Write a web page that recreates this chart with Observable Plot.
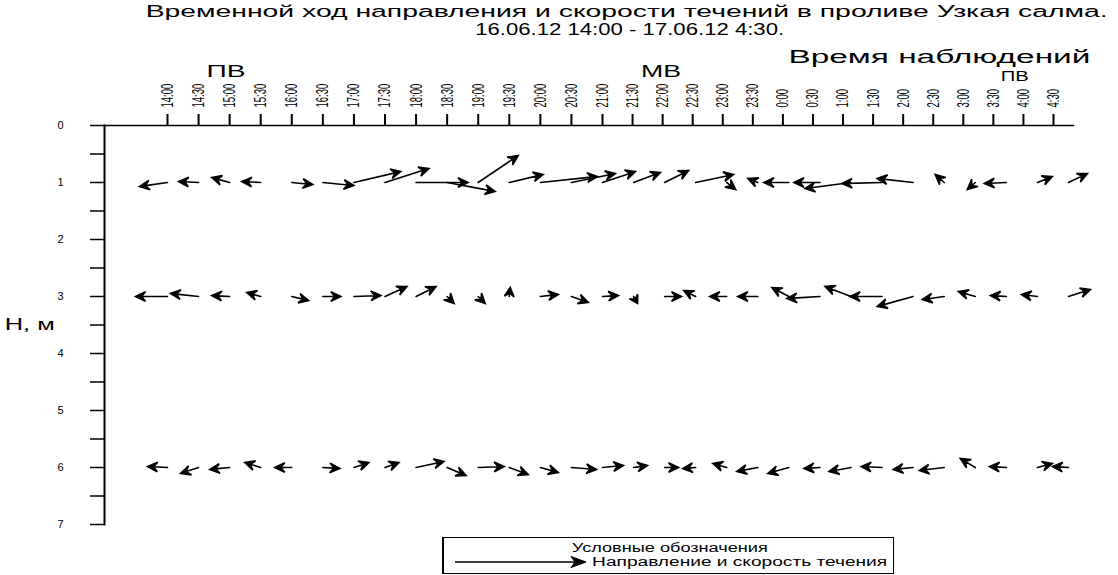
<!DOCTYPE html>
<html><head><meta charset="utf-8">
<script src="https://cdn.jsdelivr.net/npm/d3@7"></script>
<script src="https://cdn.jsdelivr.net/npm/@observablehq/plot@0.6"></script>
<style>
body{margin:0;background:#fff;font-family:"Liberation Sans",Arial,sans-serif;}
#wrap{position:relative;width:1118px;height:575px;overflow:hidden;background:#fff;}
#wrap svg{position:absolute;left:0;top:0;}
.t{position:absolute;white-space:nowrap;color:#000;line-height:1;transform-origin:50% 50%;font-family:"Liberation Sans",Arial,sans-serif;}
#legend{position:absolute;left:442px;top:537px;width:452px;height:37px;border:1px solid #000;border-left:2px solid #000;box-sizing:border-box;}
</style></head><body><div id="wrap"></div>
<script>
// ---- data ----
const times = ["14:00","14:30","15:00","15:30","16:00","16:30","17:00","17:30","18:00","18:30","19:00","19:30","20:00","20:30","21:00","21:30","22:00","22:30","23:00","23:30","0:00","0:30","1:00","1:30","2:00","2:30","3:00","3:30","4:00","4:30"];
const depths = [1, 3, 6];
const yTicks = [0, 1, 2, 3, 4, 5, 6, 7];
const yMinorTicks = [0.5, 1.5, 2.5, 3.5, 4.5, 5.5, 6.5];
// current components (east, north), cm/s
const east1  = [-28,-20,-18,-19,21,31,47,44,52,48,40,34,57,44,33,27,24,38,9,-10,-25,-26,-46,-40,-36,-9,-8,-22,15,19];
const north1 = [-4,1,5,1,-2,-3,11,14,0,-9,27,8,6,9,11,10,12,8,-7,4,0,0,-6,-1,4,8,-7,-1,6,9];
const east3  = [-32,-28,-18,-14,17,18,27,22,20,7,7,1,18,17,16,4,17,-12,-17,-20,-17,-33,-26,-32,-36,-22,-17,-16,-16,22];
const north3 = [0,3,1,4,-4,0,1,10,10,-7,-7,9,2,-6,1,-7,0,6,0,0,9,-2,10,0,-10,-3,5,1,2,7];
const east6  = [-20,-18,-20,-16,-17,17,15,14,28,19,26,19,18,25,21,14,14,-13,-14,-21,-21,-16,-22,-21,-20,-25,-15,-17,15,-16];
const north6 = [1,-6,-2,5,0,-1,5,5,6,-8,1,-7,-5,-2,2,2,0,-1,4,-4,-6,-1,-4,1,-2,-3,9,1,4,1];
const tideLabels = ["ПВ", "МВ", "ПВ"];
const tideAt = [1.9, 15.9, 27.3]; // position in half-hour steps from 14:00

const eastAll = [east1, east3, east6], northAll = [north1, north3, north6];
const rows = [];
depths.forEach((h, k) => times.forEach((t, i) => rows.push({i, h, u: eastAll[k][i], v: northAll[k][i]})));

const notched = {
  draw(ctx, l) {
    const h = Math.min(10, l), w = 4.8, n = h * 0.6;
    ctx.moveTo(0, 0);
    ctx.lineTo(0, -l + n);
    ctx.moveTo(0, -l);
    ctx.lineTo(-w, -l + h);
    ctx.lineTo(0, -l + n);
    ctx.lineTo(w, -l + h);
    ctx.closePath();
  }
};

const wrap = document.getElementById("wrap");
const common = {
  width: 1118, height: 575,
  marginLeft: 104, marginRight: 45, marginTop: 125, marginBottom: 51,
  style: {fontFamily: "'Liberation Sans', Arial, sans-serif", color: "black", overflow: "visible"}
};

// axes (the original's time ticks are slightly compressed on the right half)
function axes(xopt) {
  return Plot.plot({
    ...common,
    x: xopt,
    y: {domain: [0, 7], range: [125, 524]},
    style: {...common.style, background: "white"},
    marks: [
      Plot.frame({anchor: "top", strokeWidth: 1.5}),
      Plot.frame({anchor: "left", strokeWidth: 2}),
      Plot.axisX({anchor: "top", ticks: d3.range(times.length), tickFormat: i => times[i], tickRotate: -90,
        tickSize: 12, tickPadding: 6, fontSize: 17, strokeWidth: 2, label: null}),
      Plot.axisY({anchor: "left", ticks: [...yTicks, ...yMinorTicks], tickFormat: d => Number.isInteger(d) ? d : "",
        tickSize: 14, tickPadding: 27, fontSize: 11, strokeWidth: 1.5, label: null})
    ]
  });
}
let axisChart;
try { axisChart = axes({type: "linear", domain: [0, 14, 29], range: [167, 602, 1053]}); }
catch (e) { axisChart = axes({type: "linear", domain: [0, 29], range: [167, 1053]}); }
wrap.appendChild(axisChart);

function arrows(shape) {
  return Plot.plot({
    ...common,
    x: {type: "linear", domain: [0, times.length - 1], range: [167, 1068], axis: null},
    y: {domain: [0, 7], range: [125, 524], axis: null},
    length: {type: "linear", domain: [0, 100], range: [0, 100]},
    style: {...common.style, background: "transparent"},
    marks: [
      Plot.vector(rows, {x: "i", y: "h",
        rotate: d => Math.atan2(d.u, d.v) * 180 / Math.PI,
        length: d => Math.hypot(d.u, d.v),
        anchor: "start", shape, stroke: "black", fill: "black", strokeWidth: 1.6, strokeLinejoin: "miter"})
    ]
  });
}
let chart;
try { chart = arrows(notched); } catch (e) { chart = arrows("arrow"); }
wrap.appendChild(chart);

// condense rotated tick labels
d3.select(axisChart).selectAll('g[aria-label="x-axis tick label"] text').each(function() {
  const tr = this.getAttribute("transform") || "";
  this.setAttribute("transform", tr + " scale(0.56,1)");
});

function place(txt, cx, cy, w, fs, parent = wrap) {
  const d = document.createElement("div");
  d.className = "t"; d.textContent = txt; d.style.fontSize = fs + "px";
  parent.appendChild(d);
  const r = d.getBoundingClientRect();
  d.style.left = (cx - r.width / 2) + "px";
  d.style.top = (cy - r.height / 2) + "px";
  if (w) d.style.transform = `scaleX(${w / r.width})`;
  return d;
}
place("Временной ход направления и скорости течений в проливе Узкая салма.", 627, 12, 962, 16);
place("16.06.12 14:00 - 17.06.12 4:30.", 630, 30, 309, 16);
place("Время наблюдений", 939, 57, 302, 18);
place("Н, м", 30, 325, 50, 16);
const xs = chart.scale("x");
tideLabels.forEach((s, k) => place(s, xs.apply(tideAt[k]), k === 2 ? 76 : 72, s === "МВ" ? 40 : (k === 0 ? 39 : 28), k === 2 ? 14 : 16));

// legend
const lg = document.createElement("div"); lg.id = "legend"; wrap.appendChild(lg);
place("Условные обозначения", 670, 548, 196, 12);
place("Направление и скорость течения", 740, 562, 295, 12);
const ns = "http://www.w3.org/2000/svg";
const ls = document.createElementNS(ns, "svg");
ls.setAttribute("width", 140); ls.setAttribute("height", 14);
ls.style.cssText = "position:absolute;left:452px;top:555px;";
ls.innerHTML = '<path d="M3,7H124" stroke="black" stroke-width="1.3"/><path d="M134,7L119,1.5L123,7L119,12.5Z" fill="black" stroke="black" stroke-width="1"/>';
wrap.appendChild(ls);
</script></body></html>
